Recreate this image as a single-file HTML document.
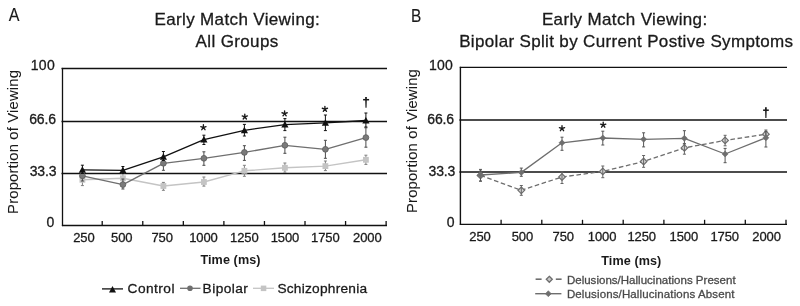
<!DOCTYPE html>
<html><head><meta charset="utf-8"><style>
html,body{margin:0;padding:0;background:#fff;overflow:hidden;}
svg{display:block;font-family:"Liberation Sans", sans-serif;will-change:transform;}
</style></head><body>
<svg width="800" height="306" viewBox="0 0 800 306">
<rect width="800" height="306" fill="#fff"/>
<line x1="61.5" y1="68.5" x2="387.0" y2="68.5" stroke="#111" stroke-width="1.3"/>
<line x1="61.5" y1="121.5" x2="387.0" y2="121.5" stroke="#111" stroke-width="1.3"/>
<line x1="61.5" y1="173.5" x2="387.0" y2="173.5" stroke="#111" stroke-width="1.3"/>
<line x1="62.5" y1="67.9" x2="62.5" y2="226.1" stroke="#111" stroke-width="1.3"/>
<line x1="61.9" y1="225.5" x2="387.0" y2="225.5" stroke="#111" stroke-width="1.3"/>
<line x1="102.21" y1="221.0" x2="102.21" y2="225.5" stroke="#111" stroke-width="1.3"/>
<line x1="142.77" y1="221.0" x2="142.77" y2="225.5" stroke="#111" stroke-width="1.3"/>
<line x1="183.33" y1="221.0" x2="183.33" y2="225.5" stroke="#111" stroke-width="1.3"/>
<line x1="223.89" y1="221.0" x2="223.89" y2="225.5" stroke="#111" stroke-width="1.3"/>
<line x1="264.45" y1="221.0" x2="264.45" y2="225.5" stroke="#111" stroke-width="1.3"/>
<line x1="305.01" y1="221.0" x2="305.01" y2="225.5" stroke="#111" stroke-width="1.3"/>
<line x1="345.57" y1="221.0" x2="345.57" y2="225.5" stroke="#111" stroke-width="1.3"/>
<line x1="386.13" y1="221.0" x2="386.13" y2="225.5" stroke="#111" stroke-width="1.3"/>
<polyline points="82.4,179.8 122.9,178.3 163.4,186.0 203.9,182.0 244.4,170.8 284.9,167.8 325.4,166.1 365.9,159.8" fill="none" stroke="#c4c4c4" stroke-width="1.4" stroke-linejoin="round"/>
<line x1="82.4" y1="174.5" x2="82.4" y2="185.6" stroke="#808080" stroke-width="1.0"/><line x1="80.9" y1="174.5" x2="83.9" y2="174.5" stroke="#808080" stroke-width="1.0"/><line x1="80.9" y1="185.6" x2="83.9" y2="185.6" stroke="#808080" stroke-width="1.0"/>
<line x1="122.9" y1="173.5" x2="122.9" y2="183" stroke="#808080" stroke-width="1.0"/><line x1="121.4" y1="173.5" x2="124.4" y2="173.5" stroke="#808080" stroke-width="1.0"/><line x1="121.4" y1="183" x2="124.4" y2="183" stroke="#808080" stroke-width="1.0"/>
<line x1="163.4" y1="182.4" x2="163.4" y2="190.3" stroke="#808080" stroke-width="1.0"/><line x1="161.9" y1="182.4" x2="164.9" y2="182.4" stroke="#808080" stroke-width="1.0"/><line x1="161.9" y1="190.3" x2="164.9" y2="190.3" stroke="#808080" stroke-width="1.0"/>
<line x1="203.9" y1="177" x2="203.9" y2="186.1" stroke="#808080" stroke-width="1.0"/><line x1="202.4" y1="177" x2="205.4" y2="177" stroke="#808080" stroke-width="1.0"/><line x1="202.4" y1="186.1" x2="205.4" y2="186.1" stroke="#808080" stroke-width="1.0"/>
<line x1="244.4" y1="165.3" x2="244.4" y2="176.3" stroke="#808080" stroke-width="1.0"/><line x1="242.9" y1="165.3" x2="245.9" y2="165.3" stroke="#808080" stroke-width="1.0"/><line x1="242.9" y1="176.3" x2="245.9" y2="176.3" stroke="#808080" stroke-width="1.0"/>
<line x1="284.9" y1="163" x2="284.9" y2="172.2" stroke="#808080" stroke-width="1.0"/><line x1="283.4" y1="163" x2="286.4" y2="163" stroke="#808080" stroke-width="1.0"/><line x1="283.4" y1="172.2" x2="286.4" y2="172.2" stroke="#808080" stroke-width="1.0"/>
<line x1="325.4" y1="161" x2="325.4" y2="170.6" stroke="#808080" stroke-width="1.0"/><line x1="323.9" y1="161" x2="326.9" y2="161" stroke="#808080" stroke-width="1.0"/><line x1="323.9" y1="170.6" x2="326.9" y2="170.6" stroke="#808080" stroke-width="1.0"/>
<line x1="365.9" y1="155.2" x2="365.9" y2="164.4" stroke="#808080" stroke-width="1.0"/><line x1="364.4" y1="155.2" x2="367.4" y2="155.2" stroke="#808080" stroke-width="1.0"/><line x1="364.4" y1="164.4" x2="367.4" y2="164.4" stroke="#808080" stroke-width="1.0"/>
<rect x="79.5" y="176.9" width="5.8" height="5.8" fill="#c4c4c4"/>
<rect x="120.0" y="175.4" width="5.8" height="5.8" fill="#c4c4c4"/>
<rect x="160.5" y="183.1" width="5.8" height="5.8" fill="#c4c4c4"/>
<rect x="201.0" y="179.1" width="5.8" height="5.8" fill="#c4c4c4"/>
<rect x="241.5" y="167.9" width="5.8" height="5.8" fill="#c4c4c4"/>
<rect x="282.0" y="164.9" width="5.8" height="5.8" fill="#c4c4c4"/>
<rect x="322.5" y="163.2" width="5.8" height="5.8" fill="#c4c4c4"/>
<rect x="363.0" y="156.9" width="5.8" height="5.8" fill="#c4c4c4"/>
<polyline points="82.4,175.8 122.9,184.6 163.4,163.3 203.9,158.3 244.4,152.4 284.9,145.3 325.4,149.3 365.9,137.6" fill="none" stroke="#6f6f6f" stroke-width="1.3" stroke-linejoin="round"/>
<line x1="82.4" y1="171" x2="82.4" y2="181" stroke="#4a4a4a" stroke-width="1.0"/><line x1="80.9" y1="171" x2="83.9" y2="171" stroke="#4a4a4a" stroke-width="1.0"/><line x1="80.9" y1="181" x2="83.9" y2="181" stroke="#4a4a4a" stroke-width="1.0"/>
<line x1="122.9" y1="179" x2="122.9" y2="189" stroke="#4a4a4a" stroke-width="1.0"/><line x1="121.4" y1="179" x2="124.4" y2="179" stroke="#4a4a4a" stroke-width="1.0"/><line x1="121.4" y1="189" x2="124.4" y2="189" stroke="#4a4a4a" stroke-width="1.0"/>
<line x1="163.4" y1="156.5" x2="163.4" y2="170.3" stroke="#4a4a4a" stroke-width="1.0"/><line x1="161.9" y1="156.5" x2="164.9" y2="156.5" stroke="#4a4a4a" stroke-width="1.0"/><line x1="161.9" y1="170.3" x2="164.9" y2="170.3" stroke="#4a4a4a" stroke-width="1.0"/>
<line x1="203.9" y1="151.8" x2="203.9" y2="165.3" stroke="#4a4a4a" stroke-width="1.0"/><line x1="202.4" y1="151.8" x2="205.4" y2="151.8" stroke="#4a4a4a" stroke-width="1.0"/><line x1="202.4" y1="165.3" x2="205.4" y2="165.3" stroke="#4a4a4a" stroke-width="1.0"/>
<line x1="244.4" y1="145.7" x2="244.4" y2="160.4" stroke="#4a4a4a" stroke-width="1.0"/><line x1="242.9" y1="145.7" x2="245.9" y2="145.7" stroke="#4a4a4a" stroke-width="1.0"/><line x1="242.9" y1="160.4" x2="245.9" y2="160.4" stroke="#4a4a4a" stroke-width="1.0"/>
<line x1="284.9" y1="137.2" x2="284.9" y2="153.3" stroke="#4a4a4a" stroke-width="1.0"/><line x1="283.4" y1="137.2" x2="286.4" y2="137.2" stroke="#4a4a4a" stroke-width="1.0"/><line x1="283.4" y1="153.3" x2="286.4" y2="153.3" stroke="#4a4a4a" stroke-width="1.0"/>
<line x1="325.4" y1="140.3" x2="325.4" y2="158.3" stroke="#4a4a4a" stroke-width="1.0"/><line x1="323.9" y1="140.3" x2="326.9" y2="140.3" stroke="#4a4a4a" stroke-width="1.0"/><line x1="323.9" y1="158.3" x2="326.9" y2="158.3" stroke="#4a4a4a" stroke-width="1.0"/>
<line x1="365.9" y1="127.8" x2="365.9" y2="147.2" stroke="#4a4a4a" stroke-width="1.0"/><line x1="364.4" y1="127.8" x2="367.4" y2="127.8" stroke="#4a4a4a" stroke-width="1.0"/><line x1="364.4" y1="147.2" x2="367.4" y2="147.2" stroke="#4a4a4a" stroke-width="1.0"/>
<circle cx="82.4" cy="175.8" r="2.9" fill="#7a7a7a" stroke="#5c5c5c" stroke-width="0.8"/>
<circle cx="122.9" cy="184.6" r="2.9" fill="#7a7a7a" stroke="#5c5c5c" stroke-width="0.8"/>
<circle cx="163.4" cy="163.3" r="2.9" fill="#7a7a7a" stroke="#5c5c5c" stroke-width="0.8"/>
<circle cx="203.9" cy="158.3" r="2.9" fill="#7a7a7a" stroke="#5c5c5c" stroke-width="0.8"/>
<circle cx="244.4" cy="152.4" r="2.9" fill="#7a7a7a" stroke="#5c5c5c" stroke-width="0.8"/>
<circle cx="284.9" cy="145.3" r="2.9" fill="#7a7a7a" stroke="#5c5c5c" stroke-width="0.8"/>
<circle cx="325.4" cy="149.3" r="2.9" fill="#7a7a7a" stroke="#5c5c5c" stroke-width="0.8"/>
<circle cx="365.9" cy="137.6" r="2.9" fill="#7a7a7a" stroke="#5c5c5c" stroke-width="0.8"/>
<polyline points="82.4,169.8 122.9,170.3 163.4,156.8 203.9,139.6 244.4,130.3 284.9,124.6 325.4,122.8 365.9,120.5" fill="none" stroke="#111" stroke-width="1.3" stroke-linejoin="round"/>
<line x1="82.4" y1="165.2" x2="82.4" y2="173.5" stroke="#111" stroke-width="1.0"/><line x1="80.9" y1="165.2" x2="83.9" y2="165.2" stroke="#111" stroke-width="1.0"/><line x1="80.9" y1="173.5" x2="83.9" y2="173.5" stroke="#111" stroke-width="1.0"/>
<line x1="122.9" y1="166.5" x2="122.9" y2="173.5" stroke="#111" stroke-width="1.0"/><line x1="121.4" y1="166.5" x2="124.4" y2="166.5" stroke="#111" stroke-width="1.0"/><line x1="121.4" y1="173.5" x2="124.4" y2="173.5" stroke="#111" stroke-width="1.0"/>
<line x1="163.4" y1="151.5" x2="163.4" y2="160.5" stroke="#111" stroke-width="1.0"/><line x1="161.9" y1="151.5" x2="164.9" y2="151.5" stroke="#111" stroke-width="1.0"/><line x1="161.9" y1="160.5" x2="164.9" y2="160.5" stroke="#111" stroke-width="1.0"/>
<line x1="203.9" y1="135.2" x2="203.9" y2="144.5" stroke="#111" stroke-width="1.0"/><line x1="202.4" y1="135.2" x2="205.4" y2="135.2" stroke="#111" stroke-width="1.0"/><line x1="202.4" y1="144.5" x2="205.4" y2="144.5" stroke="#111" stroke-width="1.0"/>
<line x1="244.4" y1="124.4" x2="244.4" y2="136" stroke="#111" stroke-width="1.0"/><line x1="242.9" y1="124.4" x2="245.9" y2="124.4" stroke="#111" stroke-width="1.0"/><line x1="242.9" y1="136" x2="245.9" y2="136" stroke="#111" stroke-width="1.0"/>
<line x1="284.9" y1="118.6" x2="284.9" y2="130.6" stroke="#111" stroke-width="1.0"/><line x1="283.4" y1="118.6" x2="286.4" y2="118.6" stroke="#111" stroke-width="1.0"/><line x1="283.4" y1="130.6" x2="286.4" y2="130.6" stroke="#111" stroke-width="1.0"/>
<line x1="325.4" y1="115" x2="325.4" y2="130.6" stroke="#111" stroke-width="1.0"/><line x1="323.9" y1="115" x2="326.9" y2="115" stroke="#111" stroke-width="1.0"/><line x1="323.9" y1="130.6" x2="326.9" y2="130.6" stroke="#111" stroke-width="1.0"/>
<line x1="365.9" y1="113" x2="365.9" y2="127" stroke="#111" stroke-width="1.0"/><line x1="364.4" y1="113" x2="367.4" y2="113" stroke="#111" stroke-width="1.0"/><line x1="364.4" y1="127" x2="367.4" y2="127" stroke="#111" stroke-width="1.0"/>
<polygon points="82.4,166.2 86.0,172.7 78.8,172.7" fill="#111"/>
<polygon points="122.9,166.7 126.5,173.2 119.3,173.2" fill="#111"/>
<polygon points="163.4,153.2 167.0,159.7 159.8,159.7" fill="#111"/>
<polygon points="203.9,136.0 207.5,142.5 200.3,142.5" fill="#111"/>
<polygon points="244.4,126.7 248.0,133.2 240.8,133.2" fill="#111"/>
<polygon points="284.9,121.0 288.5,127.5 281.3,127.5" fill="#111"/>
<polygon points="325.4,119.2 329.0,125.7 321.8,125.7" fill="#111"/>
<polygon points="365.9,116.9 369.5,123.4 362.3,123.4" fill="#111"/>
<path d="M203.40,127.50L203.40,124.75M203.40,127.50L206.02,126.65M203.40,127.50L205.02,129.72M203.40,127.50L201.78,129.72M203.40,127.50L200.78,126.65" stroke="#1a1a1a" stroke-width="1.35" stroke-linecap="round" fill="none"/>
<path d="M244.80,116.80L244.80,114.05M244.80,116.80L247.42,115.95M244.80,116.80L246.42,119.02M244.80,116.80L243.18,119.02M244.80,116.80L242.18,115.95" stroke="#1a1a1a" stroke-width="1.35" stroke-linecap="round" fill="none"/>
<path d="M284.60,113.60L284.60,110.85M284.60,113.60L287.22,112.75M284.60,113.60L286.22,115.82M284.60,113.60L282.98,115.82M284.60,113.60L281.98,112.75" stroke="#1a1a1a" stroke-width="1.35" stroke-linecap="round" fill="none"/>
<path d="M324.90,109.10L324.90,106.35M324.90,109.10L327.52,108.25M324.90,109.10L326.52,111.32M324.90,109.10L323.28,111.32M324.90,109.10L322.28,108.25" stroke="#1a1a1a" stroke-width="1.35" stroke-linecap="round" fill="none"/>
<path d="M365.10,96.90L366.90,96.90L366.55,107.70L365.45,107.70Z" fill="#1a1a1a"/><rect x="363.10" y="98.95" width="6.00" height="1.5" fill="#1a1a1a"/>
<text transform="translate(8.8,20.6) scale(0.87,1)" font-size="18.5" fill="#1a1a1a" stroke="#1a1a1a" stroke-width="0.1">A</text>
<text x="237.3" y="24.8" font-size="17" text-anchor="middle" font-weight="normal" fill="#1a1a1a" stroke="#1a1a1a" stroke-width="0.3" letter-spacing="0.36">Early Match Viewing:</text>
<text x="237.1" y="46.6" font-size="17" text-anchor="middle" font-weight="normal" fill="#1a1a1a" stroke="#1a1a1a" stroke-width="0.3" letter-spacing="0.36">All Groups</text>
<text x="55.0" y="70.2" font-size="14" text-anchor="end" font-weight="normal" fill="#1a1a1a" stroke="#1a1a1a" stroke-width="0.3" letter-spacing="0.3">100</text>
<text x="55.8" y="123.5" font-size="14" text-anchor="end" font-weight="normal" fill="#1a1a1a" stroke="#1a1a1a" stroke-width="0.3" letter-spacing="-0.15">66.6</text>
<text x="56.3" y="176.0" font-size="14" text-anchor="end" font-weight="normal" fill="#1a1a1a" stroke="#1a1a1a" stroke-width="0.3" letter-spacing="-0.15">33.3</text>
<text x="54.2" y="227.0" font-size="14" text-anchor="end" font-weight="normal" fill="#1a1a1a" stroke="#1a1a1a" stroke-width="0.3" letter-spacing="0">0</text>
<text x="83.9" y="241.8" font-size="13.0" text-anchor="middle" font-weight="normal" fill="#1a1a1a" stroke="#1a1a1a" stroke-width="0.3" letter-spacing="-0.1">250</text>
<text x="121.7" y="241.8" font-size="13.0" text-anchor="middle" font-weight="normal" fill="#1a1a1a" stroke="#1a1a1a" stroke-width="0.3" letter-spacing="-0.1">500</text>
<text x="162.1" y="241.8" font-size="13.0" text-anchor="middle" font-weight="normal" fill="#1a1a1a" stroke="#1a1a1a" stroke-width="0.3" letter-spacing="-0.1">750</text>
<text x="203.4" y="241.8" font-size="13.0" text-anchor="middle" font-weight="normal" fill="#1a1a1a" stroke="#1a1a1a" stroke-width="0.3" letter-spacing="-0.1">1000</text>
<text x="244.3" y="241.8" font-size="13.0" text-anchor="middle" font-weight="normal" fill="#1a1a1a" stroke="#1a1a1a" stroke-width="0.3" letter-spacing="-0.1">1250</text>
<text x="284.9" y="241.8" font-size="13.0" text-anchor="middle" font-weight="normal" fill="#1a1a1a" stroke="#1a1a1a" stroke-width="0.3" letter-spacing="-0.1">1500</text>
<text x="325.3" y="241.8" font-size="13.0" text-anchor="middle" font-weight="normal" fill="#1a1a1a" stroke="#1a1a1a" stroke-width="0.3" letter-spacing="-0.1">1750</text>
<text x="367.3" y="241.8" font-size="13.0" text-anchor="middle" font-weight="normal" fill="#1a1a1a" stroke="#1a1a1a" stroke-width="0.3" letter-spacing="-0.1">2000</text>
<text x="230.5" y="264.3" font-size="12.6" text-anchor="middle" font-weight="bold" fill="#1a1a1a" stroke="#1a1a1a" stroke-width="0.3" stroke-opacity="0" letter-spacing="0.1">Time (ms)</text>
<text transform="translate(17.6,213.9) rotate(-90)" font-size="14.8" letter-spacing="0.17" fill="#1a1a1a" stroke="#1a1a1a" stroke-width="0.05">Proportion of Viewing</text>
<line x1="102" y1="288.9" x2="123" y2="288.9" stroke="#111" stroke-width="1.3"/>
<polygon points="112.5,286.1 116.0,292.4 109.0,292.4" fill="#111"/>
<text x="127.6" y="292.5" font-size="13.7" text-anchor="start" font-weight="normal" fill="#1a1a1a" stroke="#1a1a1a" stroke-width="0.3" letter-spacing="0.45">Control</text>
<line x1="180" y1="288.3" x2="200.5" y2="288.3" stroke="#6f6f6f" stroke-width="1.3"/>
<circle cx="190.0" cy="288.3" r="2.8" fill="#6f6f6f"/>
<text x="202.6" y="292.5" font-size="13.7" text-anchor="start" font-weight="normal" fill="#1a1a1a" stroke="#1a1a1a" stroke-width="0.3" letter-spacing="0.45">Bipolar</text>
<line x1="253" y1="288.3" x2="274" y2="288.3" stroke="#c4c4c4" stroke-width="1.3"/>
<rect x="260.8" y="285.6" width="5.5" height="5.5" fill="#c4c4c4"/>
<text x="277.4" y="292.5" font-size="13.7" text-anchor="start" font-weight="normal" fill="#1a1a1a" stroke="#1a1a1a" stroke-width="0.3" letter-spacing="0.25">Schizophrenia</text>
<line x1="459.79999999999995" y1="67.4" x2="787.0" y2="67.4" stroke="#111" stroke-width="1.3"/>
<line x1="459.4" y1="120.0" x2="787.0" y2="120.0" stroke="#4c4c4c" stroke-width="1.9"/>
<line x1="459.4" y1="172.0" x2="787.0" y2="172.0" stroke="#4c4c4c" stroke-width="1.9"/>
<line x1="460.4" y1="66.80000000000001" x2="460.4" y2="224.9" stroke="#111" stroke-width="1.4"/>
<line x1="459.79999999999995" y1="224.3" x2="787.0" y2="224.3" stroke="#111" stroke-width="1.3"/>
<line x1="501.10" y1="219.8" x2="501.10" y2="224.3" stroke="#111" stroke-width="1.3"/>
<line x1="541.80" y1="219.8" x2="541.80" y2="224.3" stroke="#111" stroke-width="1.3"/>
<line x1="582.50" y1="219.8" x2="582.50" y2="224.3" stroke="#111" stroke-width="1.3"/>
<line x1="623.20" y1="219.8" x2="623.20" y2="224.3" stroke="#111" stroke-width="1.3"/>
<line x1="663.90" y1="219.8" x2="663.90" y2="224.3" stroke="#111" stroke-width="1.3"/>
<line x1="704.60" y1="219.8" x2="704.60" y2="224.3" stroke="#111" stroke-width="1.3"/>
<line x1="745.30" y1="219.8" x2="745.30" y2="224.3" stroke="#111" stroke-width="1.3"/>
<line x1="786.00" y1="219.8" x2="786.00" y2="224.3" stroke="#111" stroke-width="1.3"/>
<polyline points="480.5,175.4 521.3,190.3 562.0,177.0 602.8,171.4 643.6,161.5 684.4,147.9 725.1,140.4 765.9,134.2" fill="none" stroke="#6e6e6e" stroke-width="1.3" stroke-linejoin="round" stroke-dasharray="4.6,2.6"/>
<polygon points="480.5,172.1 483.8,175.4 480.5,178.7 477.2,175.4" fill="#d4d4d4" stroke="#6e6e6e" stroke-width="1.2"/>
<polygon points="521.3,187.0 524.6,190.3 521.3,193.6 518.0,190.3" fill="#d4d4d4" stroke="#6e6e6e" stroke-width="1.2"/>
<polygon points="562.0,173.7 565.3,177.0 562.0,180.3 558.7,177.0" fill="#d4d4d4" stroke="#6e6e6e" stroke-width="1.2"/>
<polygon points="602.8,168.1 606.1,171.4 602.8,174.7 599.5,171.4" fill="#d4d4d4" stroke="#6e6e6e" stroke-width="1.2"/>
<polygon points="643.6,158.2 646.9,161.5 643.6,164.8 640.3,161.5" fill="#d4d4d4" stroke="#6e6e6e" stroke-width="1.2"/>
<polygon points="684.4,144.6 687.6,147.9 684.4,151.2 681.1,147.9" fill="#d4d4d4" stroke="#6e6e6e" stroke-width="1.2"/>
<polygon points="725.1,137.1 728.4,140.4 725.1,143.7 721.8,140.4" fill="#d4d4d4" stroke="#6e6e6e" stroke-width="1.2"/>
<polygon points="765.9,130.9 769.2,134.2 765.9,137.5 762.6,134.2" fill="#d4d4d4" stroke="#6e6e6e" stroke-width="1.2"/>
<line x1="480.5" y1="171" x2="480.5" y2="181" stroke="#666" stroke-width="1.0"/><line x1="479.0" y1="171" x2="482.0" y2="171" stroke="#666" stroke-width="1.0"/><line x1="479.0" y1="181" x2="482.0" y2="181" stroke="#666" stroke-width="1.0"/>
<line x1="521.3" y1="185.5" x2="521.3" y2="195.3" stroke="#666" stroke-width="1.0"/><line x1="519.8" y1="185.5" x2="522.8" y2="185.5" stroke="#666" stroke-width="1.0"/><line x1="519.8" y1="195.3" x2="522.8" y2="195.3" stroke="#666" stroke-width="1.0"/>
<line x1="562.0" y1="172" x2="562.0" y2="183.5" stroke="#666" stroke-width="1.0"/><line x1="560.5" y1="172" x2="563.5" y2="172" stroke="#666" stroke-width="1.0"/><line x1="560.5" y1="183.5" x2="563.5" y2="183.5" stroke="#666" stroke-width="1.0"/>
<line x1="602.8" y1="166" x2="602.8" y2="177.7" stroke="#666" stroke-width="1.0"/><line x1="601.3" y1="166" x2="604.3" y2="166" stroke="#666" stroke-width="1.0"/><line x1="601.3" y1="177.7" x2="604.3" y2="177.7" stroke="#666" stroke-width="1.0"/>
<line x1="643.6" y1="155.5" x2="643.6" y2="167.3" stroke="#666" stroke-width="1.0"/><line x1="642.1" y1="155.5" x2="645.1" y2="155.5" stroke="#666" stroke-width="1.0"/><line x1="642.1" y1="167.3" x2="645.1" y2="167.3" stroke="#666" stroke-width="1.0"/>
<line x1="684.4" y1="143.8" x2="684.4" y2="154.2" stroke="#666" stroke-width="1.0"/><line x1="682.9" y1="143.8" x2="685.9" y2="143.8" stroke="#666" stroke-width="1.0"/><line x1="682.9" y1="154.2" x2="685.9" y2="154.2" stroke="#666" stroke-width="1.0"/>
<line x1="725.1" y1="135.3" x2="725.1" y2="145.8" stroke="#666" stroke-width="1.0"/><line x1="723.6" y1="135.3" x2="726.6" y2="135.3" stroke="#666" stroke-width="1.0"/><line x1="723.6" y1="145.8" x2="726.6" y2="145.8" stroke="#666" stroke-width="1.0"/>
<line x1="765.9" y1="130" x2="765.9" y2="139" stroke="#666" stroke-width="1.0"/><line x1="764.4" y1="130" x2="767.4" y2="130" stroke="#666" stroke-width="1.0"/><line x1="764.4" y1="139" x2="767.4" y2="139" stroke="#666" stroke-width="1.0"/>
<polyline points="480.5,175.0 521.3,172.4 562.0,142.8 602.8,138.0 643.6,139.3 684.4,138.3 725.1,154.0 765.9,137.8" fill="none" stroke="#6e6e6e" stroke-width="1.3" stroke-linejoin="round"/>
<line x1="480.5" y1="169.4" x2="480.5" y2="181.2" stroke="#555" stroke-width="1.0"/><line x1="479.0" y1="169.4" x2="482.0" y2="169.4" stroke="#555" stroke-width="1.0"/><line x1="479.0" y1="181.2" x2="482.0" y2="181.2" stroke="#555" stroke-width="1.0"/>
<line x1="521.3" y1="168.1" x2="521.3" y2="176.3" stroke="#555" stroke-width="1.0"/><line x1="519.8" y1="168.1" x2="522.8" y2="168.1" stroke="#555" stroke-width="1.0"/><line x1="519.8" y1="176.3" x2="522.8" y2="176.3" stroke="#555" stroke-width="1.0"/>
<line x1="562.0" y1="137.2" x2="562.0" y2="150.3" stroke="#555" stroke-width="1.0"/><line x1="560.5" y1="137.2" x2="563.5" y2="137.2" stroke="#555" stroke-width="1.0"/><line x1="560.5" y1="150.3" x2="563.5" y2="150.3" stroke="#555" stroke-width="1.0"/>
<line x1="602.8" y1="131.2" x2="602.8" y2="145" stroke="#555" stroke-width="1.0"/><line x1="601.3" y1="131.2" x2="604.3" y2="131.2" stroke="#555" stroke-width="1.0"/><line x1="601.3" y1="145" x2="604.3" y2="145" stroke="#555" stroke-width="1.0"/>
<line x1="643.6" y1="132.8" x2="643.6" y2="146.9" stroke="#555" stroke-width="1.0"/><line x1="642.1" y1="132.8" x2="645.1" y2="132.8" stroke="#555" stroke-width="1.0"/><line x1="642.1" y1="146.9" x2="645.1" y2="146.9" stroke="#555" stroke-width="1.0"/>
<line x1="684.4" y1="130.7" x2="684.4" y2="143.8" stroke="#555" stroke-width="1.0"/><line x1="682.9" y1="130.7" x2="685.9" y2="130.7" stroke="#555" stroke-width="1.0"/><line x1="682.9" y1="143.8" x2="685.9" y2="143.8" stroke="#555" stroke-width="1.0"/>
<line x1="725.1" y1="148.4" x2="725.1" y2="162.7" stroke="#555" stroke-width="1.0"/><line x1="723.6" y1="148.4" x2="726.6" y2="148.4" stroke="#555" stroke-width="1.0"/><line x1="723.6" y1="162.7" x2="726.6" y2="162.7" stroke="#555" stroke-width="1.0"/>
<line x1="765.9" y1="131.4" x2="765.9" y2="147" stroke="#555" stroke-width="1.0"/><line x1="764.4" y1="131.4" x2="767.4" y2="131.4" stroke="#555" stroke-width="1.0"/><line x1="764.4" y1="147" x2="767.4" y2="147" stroke="#555" stroke-width="1.0"/>
<polygon points="480.5,172.0 483.5,175.0 480.5,178.0 477.5,175.0" fill="#6e6e6e" stroke="#6e6e6e" stroke-width="0.6"/>
<polygon points="521.3,169.4 524.3,172.4 521.3,175.4 518.3,172.4" fill="#6e6e6e" stroke="#6e6e6e" stroke-width="0.6"/>
<polygon points="562.0,139.8 565.0,142.8 562.0,145.8 559.0,142.8" fill="#6e6e6e" stroke="#6e6e6e" stroke-width="0.6"/>
<polygon points="602.8,135.0 605.8,138.0 602.8,141.0 599.8,138.0" fill="#6e6e6e" stroke="#6e6e6e" stroke-width="0.6"/>
<polygon points="643.6,136.3 646.6,139.3 643.6,142.3 640.6,139.3" fill="#6e6e6e" stroke="#6e6e6e" stroke-width="0.6"/>
<polygon points="684.4,135.3 687.4,138.3 684.4,141.3 681.4,138.3" fill="#6e6e6e" stroke="#6e6e6e" stroke-width="0.6"/>
<polygon points="725.1,151.0 728.1,154.0 725.1,157.0 722.1,154.0" fill="#6e6e6e" stroke="#6e6e6e" stroke-width="0.6"/>
<polygon points="765.9,134.8 768.9,137.8 765.9,140.8 762.9,137.8" fill="#6e6e6e" stroke="#6e6e6e" stroke-width="0.6"/>
<path d="M562.00,128.50L562.00,125.75M562.00,128.50L564.62,127.65M562.00,128.50L563.62,130.72M562.00,128.50L560.38,130.72M562.00,128.50L559.38,127.65" stroke="#1a1a1a" stroke-width="1.35" stroke-linecap="round" fill="none"/>
<path d="M603.20,125.00L603.20,122.25M603.20,125.00L605.82,124.15M603.20,125.00L604.82,127.22M603.20,125.00L601.58,127.22M603.20,125.00L600.58,124.15" stroke="#1a1a1a" stroke-width="1.35" stroke-linecap="round" fill="none"/>
<path d="M765.00,107.20L766.80,107.20L766.45,118.00L765.35,118.00Z" fill="#1a1a1a"/><rect x="763.10" y="109.45" width="5.70" height="1.5" fill="#1a1a1a"/>
<text transform="translate(411.0,21.6) scale(0.86,1)" font-size="18" fill="#1a1a1a" stroke="#1a1a1a" stroke-width="0.1">B</text>
<text x="624.7" y="24.8" font-size="17" text-anchor="middle" font-weight="normal" fill="#1a1a1a" stroke="#1a1a1a" stroke-width="0.3" letter-spacing="0.36">Early Match Viewing:</text>
<text x="626.3" y="46.8" font-size="17" text-anchor="middle" font-weight="normal" fill="#1a1a1a" stroke="#1a1a1a" stroke-width="0.3" letter-spacing="0.34">Bipolar Split by Current Postive Symptoms</text>
<text x="452.9" y="70.3" font-size="14" text-anchor="end" font-weight="normal" fill="#1a1a1a" stroke="#1a1a1a" stroke-width="0.3" letter-spacing="0.2">100</text>
<text x="454.0" y="123.9" font-size="14" text-anchor="end" font-weight="normal" fill="#1a1a1a" stroke="#1a1a1a" stroke-width="0.3" letter-spacing="-0.15">66.6</text>
<text x="455.2" y="175.6" font-size="14" text-anchor="end" font-weight="normal" fill="#1a1a1a" stroke="#1a1a1a" stroke-width="0.3" letter-spacing="-0.15">33.3</text>
<text x="454.5" y="226.5" font-size="14" text-anchor="end" font-weight="normal" fill="#1a1a1a" stroke="#1a1a1a" stroke-width="0.3" letter-spacing="0">0</text>
<text x="480.0" y="241.3" font-size="13.0" text-anchor="middle" font-weight="normal" fill="#1a1a1a" stroke="#1a1a1a" stroke-width="0.3" letter-spacing="-0.1">250</text>
<text x="522.4000000000001" y="241.3" font-size="13.0" text-anchor="middle" font-weight="normal" fill="#1a1a1a" stroke="#1a1a1a" stroke-width="0.3" letter-spacing="-0.1">500</text>
<text x="563.2" y="241.3" font-size="13.0" text-anchor="middle" font-weight="normal" fill="#1a1a1a" stroke="#1a1a1a" stroke-width="0.3" letter-spacing="-0.1">750</text>
<text x="602.1" y="241.3" font-size="13.0" text-anchor="middle" font-weight="normal" fill="#1a1a1a" stroke="#1a1a1a" stroke-width="0.3" letter-spacing="-0.1">1000</text>
<text x="641.7" y="241.3" font-size="13.0" text-anchor="middle" font-weight="normal" fill="#1a1a1a" stroke="#1a1a1a" stroke-width="0.3" letter-spacing="-0.1">1250</text>
<text x="683.8000000000001" y="241.3" font-size="13.0" text-anchor="middle" font-weight="normal" fill="#1a1a1a" stroke="#1a1a1a" stroke-width="0.3" letter-spacing="-0.1">1500</text>
<text x="724.7" y="241.3" font-size="13.0" text-anchor="middle" font-weight="normal" fill="#1a1a1a" stroke="#1a1a1a" stroke-width="0.3" letter-spacing="-0.1">1750</text>
<text x="766.6" y="241.3" font-size="13.0" text-anchor="middle" font-weight="normal" fill="#1a1a1a" stroke="#1a1a1a" stroke-width="0.3" letter-spacing="-0.1">2000</text>
<text x="631.3" y="264.5" font-size="12.6" text-anchor="middle" font-weight="bold" fill="#1a1a1a" stroke="#1a1a1a" stroke-width="0.3" stroke-opacity="0" letter-spacing="0.1">Time (ms)</text>
<text transform="translate(417.4,213.0) rotate(-90)" font-size="14.8" letter-spacing="0.17" fill="#1a1a1a" stroke="#1a1a1a" stroke-width="0.05">Proportion of Viewing</text>
<line x1="535.6" y1="279.2" x2="541.6" y2="279.2" stroke="#6e6e6e" stroke-width="1.6"/>
<line x1="555.8" y1="279.2" x2="561.6" y2="279.2" stroke="#6e6e6e" stroke-width="1.6"/>
<polygon points="549.3,276.3 552.3,279.3 549.3,282.3 546.3,279.3" fill="#c8c8c8" stroke="#6e6e6e" stroke-width="1.3"/>
<text x="566.9" y="283.5" font-size="11.5" text-anchor="start" font-weight="normal" fill="#4a4a4a" stroke="#4a4a4a" stroke-width="0.3" letter-spacing="0.02">Delusions/Hallucinations Present</text>
<line x1="535.2" y1="293.7" x2="561.4" y2="293.7" stroke="#6e6e6e" stroke-width="1.4"/>
<polygon points="548.3,290.7 551.3,293.7 548.3,296.7 545.3,293.7" fill="#6e6e6e" stroke="#6e6e6e" stroke-width="0.6"/>
<text x="566.9" y="297.9" font-size="11.5" text-anchor="start" font-weight="normal" fill="#4a4a4a" stroke="#4a4a4a" stroke-width="0.3" letter-spacing="0.13">Delusions/Hallucinations Absent</text>
</svg>
</body></html>
